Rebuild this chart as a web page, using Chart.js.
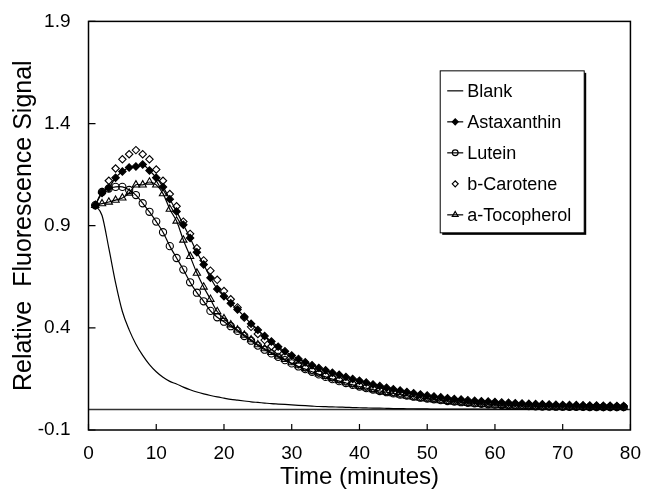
<!DOCTYPE html>
<html>
<head>
<meta charset="utf-8">
<script src="https://cdn.jsdelivr.net/npm/chart.js@4.4.1/dist/chart.umd.min.js"></script>
<style>
  html, body { margin: 0; padding: 0; background: #fff; }
  #wrap { width: 645px; height: 489px; position: relative; }
</style>
</head>
<body>
<div id="wrap"><canvas id="myChart"></canvas></div>
<script>
const ctx = document.querySelector('#myChart');

// Time axis (minutes) and tick values
const minutes = [1, 2, 3, 4, 5, 6, 7, 8, 9, 10, 11, 12, 13, 14, 15, 16, 17, 18, 19, 20,
  21, 22, 23, 24, 25, 26, 27, 28, 29, 30, 31, 32, 33, 34, 35, 36, 37, 38, 39, 40,
  41, 42, 43, 44, 45, 46, 47, 48, 49, 50, 51, 52, 53, 54, 55, 56, 57, 58, 59, 60,
  61, 62, 63, 64, 65, 66, 67, 68, 69, 70, 71, 72, 73, 74, 75, 76, 77, 78, 79];
const yTickValues = [-0.1, 0.4, 0.9, 1.4, 1.9];
const baselineX = [0, 80];
const baselineY = [0, 0];

// Relative fluorescence signal, one value per minute
const blank = [1.0, 0.95, 0.79, 0.62, 0.48, 0.39, 0.32, 0.265, 0.22, 0.185,
  0.158, 0.138, 0.125, 0.11, 0.097, 0.086, 0.077, 0.069, 0.062, 0.056,
  0.05, 0.046, 0.042, 0.038, 0.035, 0.032, 0.029, 0.027, 0.025, 0.023,
  0.021, 0.019, 0.017, 0.015, 0.014, 0.013, 0.012, 0.011, 0.01, 0.009,
  0.008, 0.007, 0.007, 0.006, 0.005, 0.005, 0.004, 0.004, 0.003, 0.003,
  0.002, 0.002, 0.002, 0.002, 0.002, 0.002, 0.002, 0.002, 0.002, 0.002,
  0.001, 0.001, 0.001, 0.001, 0.001, 0.001, 0.001, 0.001, 0.001, 0.001,
  0.001, 0.001, 0.001, 0.001, 0.001, 0.001, 0.001, 0.001, 0.001];
const astaxanthin = [1.0, 1.06, 1.085, 1.135, 1.165, 1.185, 1.19, 1.2, 1.17, 1.135,
  1.09, 1.03, 0.97, 0.905, 0.84, 0.77, 0.71, 0.645, 0.59, 0.555,
  0.52, 0.49, 0.455, 0.42, 0.39, 0.36, 0.333, 0.308, 0.285, 0.265,
  0.248, 0.232, 0.217, 0.204, 0.192, 0.18, 0.17, 0.16, 0.15, 0.141,
  0.132, 0.123, 0.115, 0.107, 0.1, 0.093, 0.086, 0.08, 0.074, 0.069,
  0.064, 0.06, 0.056, 0.052, 0.049, 0.046, 0.043, 0.041, 0.039, 0.037,
  0.035, 0.033, 0.031, 0.03, 0.028, 0.027, 0.026, 0.025, 0.024, 0.023,
  0.022, 0.022, 0.021, 0.02, 0.02, 0.019, 0.019, 0.018, 0.018];
const lutein = [1.0, 1.065, 1.082, 1.09, 1.09, 1.075, 1.05, 1.01, 0.968, 0.92,
  0.868, 0.8, 0.742, 0.685, 0.623, 0.572, 0.53, 0.483, 0.452, 0.43,
  0.408, 0.385, 0.36, 0.337, 0.313, 0.293, 0.275, 0.258, 0.242, 0.226,
  0.211, 0.198, 0.185, 0.172, 0.16, 0.149, 0.139, 0.13, 0.121, 0.113,
  0.105, 0.098, 0.091, 0.085, 0.079, 0.073, 0.068, 0.063, 0.058, 0.054,
  0.05, 0.046, 0.042, 0.039, 0.036, 0.033, 0.031, 0.028, 0.026, 0.024,
  0.022, 0.021, 0.02, 0.018, 0.017, 0.016, 0.015, 0.015, 0.014, 0.014,
  0.013, 0.013, 0.013, 0.012, 0.012, 0.012, 0.012, 0.012, 0.012];
const bCarotene = [1.0, 1.065, 1.12, 1.18, 1.225, 1.25, 1.27, 1.25, 1.225, 1.175,
  1.12, 1.055, 0.995, 0.92, 0.86, 0.79, 0.73, 0.68, 0.635, 0.58,
  0.54, 0.5, 0.45, 0.405, 0.37, 0.34, 0.31, 0.285, 0.262, 0.24,
  0.222, 0.206, 0.192, 0.18, 0.168, 0.157, 0.147, 0.137, 0.128, 0.12,
  0.112, 0.104, 0.097, 0.09, 0.084, 0.078, 0.072, 0.067, 0.062, 0.058,
  0.054, 0.05, 0.046, 0.043, 0.04, 0.037, 0.034, 0.032, 0.03, 0.028,
  0.026, 0.024, 0.022, 0.021, 0.02, 0.019, 0.018, 0.017, 0.016, 0.015,
  0.015, 0.015, 0.014, 0.014, 0.014, 0.013, 0.013, 0.013, 0.013];
const aTocopherol = [1.0, 1.008, 1.016, 1.025, 1.036, 1.06, 1.1, 1.1, 1.114, 1.1,
  1.057, 0.981, 0.923, 0.83, 0.75, 0.668, 0.6, 0.54, 0.48, 0.445,
  0.415, 0.39, 0.365, 0.342, 0.318, 0.298, 0.28, 0.262, 0.246, 0.23,
  0.215, 0.201, 0.188, 0.175, 0.163, 0.152, 0.142, 0.132, 0.123, 0.114,
  0.106, 0.098, 0.091, 0.084, 0.078, 0.072, 0.066, 0.061, 0.056, 0.052,
  0.048, 0.044, 0.04, 0.037, 0.034, 0.031, 0.028, 0.026, 0.024, 0.022,
  0.02, 0.019, 0.018, 0.017, 0.016, 0.015, 0.014, 0.014, 0.013, 0.013,
  0.013, 0.012, 0.012, 0.012, 0.012, 0.012, 0.012, 0.012, 0.012];

const FONT = '"Liberation Sans", Arial, Helvetica, sans-serif';
const INK = '#000';

function toPoints(xs, ys) {
  return xs.map((x, i) => ({x: x, y: ys[i]}));
}

/**
 * Draws the box around the plot and the inward tick marks.
 */
const frameAndTicks = {
  id: 'frameAndTicks',
  afterDatasetsDraw(chart) {
    const {ctx, chartArea: a, scales: {x, y}} = chart;
    ctx.save();
    ctx.strokeStyle = INK;
    ctx.lineWidth = 1.5;
    ctx.strokeRect(a.left, a.top, a.right - a.left, a.bottom - a.top);
    ctx.lineWidth = 1.2;
    ctx.beginPath();
    x.ticks.forEach((t) => {
      const px = x.getPixelForValue(t.value);
      ctx.moveTo(px, a.bottom);
      ctx.lineTo(px, a.bottom - 6);
    });
    y.ticks.forEach((t) => {
      const py = y.getPixelForValue(t.value);
      ctx.moveTo(a.left, py);
      ctx.lineTo(a.left + 7, py);
    });
    ctx.stroke();
    ctx.restore();
  },
};

/**
 * Draws the boxed legend inside the plot, upper right.
 */
const boxLegend = {
  id: 'boxLegend',
  afterDraw(chart) {
    const {ctx, chartArea: a} = chart;
    const w = a.right - a.left;
    const h = a.bottom - a.top;
    const left = a.left + 0.649 * w;
    const top = a.top + 0.121 * h;
    const boxW = 144;
    const boxH = 162;
    ctx.save();
    ctx.fillStyle = INK;
    ctx.fillRect(left + 2, top + 2, boxW, boxH);
    ctx.fillStyle = '#fff';
    ctx.fillRect(left, top, boxW, boxH);
    ctx.strokeStyle = INK;
    ctx.lineWidth = 1;
    ctx.strokeRect(left, top, boxW, boxH);

    const items = chart.data.datasets.filter((d) => d.inLegend);
    items.forEach((d, i) => {
      const cy = top + 20 + i * 31;
      const cx = left + 15;
      ctx.strokeStyle = INK;
      ctx.lineWidth = 1.2;
      if (d.showLine !== false) {
        ctx.beginPath();
        ctx.moveTo(left + 7, cy);
        ctx.lineTo(left + 23, cy);
        ctx.stroke();
      }
      if (d.pointRadius > 0) {
        ctx.fillStyle = d.pointBackgroundColor;
        Chart.helpers.drawPoint(ctx, {
          pointStyle: d.pointStyle,
          radius: d.pointRadius * 0.8,
          rotation: 0,
          borderWidth: 1.1,
        }, cx, cy);
      }
      ctx.fillStyle = INK;
      ctx.font = '18px ' + FONT;
      ctx.textBaseline = 'middle';
      ctx.textAlign = 'left';
      ctx.fillText(d.label, left + 27, cy + 1);
    });
    ctx.restore();
  },
};

function lineSet(label, values, extra) {
  return Object.assign({
    label: label,
    data: toPoints(minutes, values),
    borderColor: INK,
    borderWidth: 1.2,
    pointBorderColor: INK,
    pointBorderWidth: 1.1,
    inLegend: true,
  }, extra);
}

new Chart(ctx, {
  type: 'line',
  data: {
    datasets: [
      lineSet('Blank', blank, {
        pointRadius: 0, cubicInterpolationMode: 'monotone',
      }),
      lineSet('Astaxanthin', astaxanthin, {
        pointStyle: 'rectRot', pointRadius: 3.7,
        pointBackgroundColor: INK, tension: 0.3,
      }),
      lineSet('Lutein', lutein, {
        pointStyle: 'circle', pointRadius: 3.6,
        pointBackgroundColor: 'rgba(0,0,0,0)', tension: 0.3,
      }),
      lineSet('b-Carotene', bCarotene, {
        pointStyle: 'rectRot', pointRadius: 3.7, showLine: false,
        pointBackgroundColor: '#fff',
      }),
      lineSet('a-Tocopherol', aTocopherol, {
        pointStyle: 'triangle', pointRadius: 4.2,
        pointBackgroundColor: 'rgba(0,0,0,0)', tension: 0.3,
      }),
      {
        label: 'baseline',
        data: toPoints(baselineX, baselineY),
        borderColor: '#333',
        borderWidth: 1.6,
        pointRadius: 0,
        inLegend: false,
      },
    ],
  },
  options: {
    responsive: true,
    maintainAspectRatio: false,
    animation: false,
    layout: {padding: {left: 0, right: 0, top: 15, bottom: 0}},
    plugins: {
      legend: {display: false},
      tooltip: {enabled: false},
    },
    scales: {
      x: {
        type: 'linear',
        min: 0,
        max: 80,
        afterFit: (scale) => {
          scale.height = 59;
        },
        ticks: {
          stepSize: 10,
          color: INK,
          padding: 4,
          font: {family: FONT, size: 19},
        },
        grid: {display: false},
        border: {display: false},
        title: {
          display: true,
          text: 'Time (minutes)',
          color: INK,
          font: {family: FONT, size: 24, lineHeight: 1},
          padding: {top: 0, bottom: 0},
        },
      },
      y: {
        type: 'linear',
        min: -0.1,
        max: 1.9,
        afterFit: (scale) => {
          scale.width = 88.5;
        },
        afterBuildTicks: (scale) => {
          scale.ticks = yTickValues.map((v) => ({value: v}));
        },
        ticks: {
          color: INK,
          padding: 10,
          font: {family: FONT, size: 19},
          callback: (value) => value.toFixed(1),
        },
        grid: {display: false},
        border: {display: false},
        title: {
          display: true,
          text: 'Relative  Fluorescence Signal',
          color: INK,
          font: {family: FONT, size: 25, lineHeight: 1},
          padding: {top: 12, bottom: 0},
        },
      },
    },
  },
  plugins: [frameAndTicks, boxLegend],
});
</script>
</body>
</html>
